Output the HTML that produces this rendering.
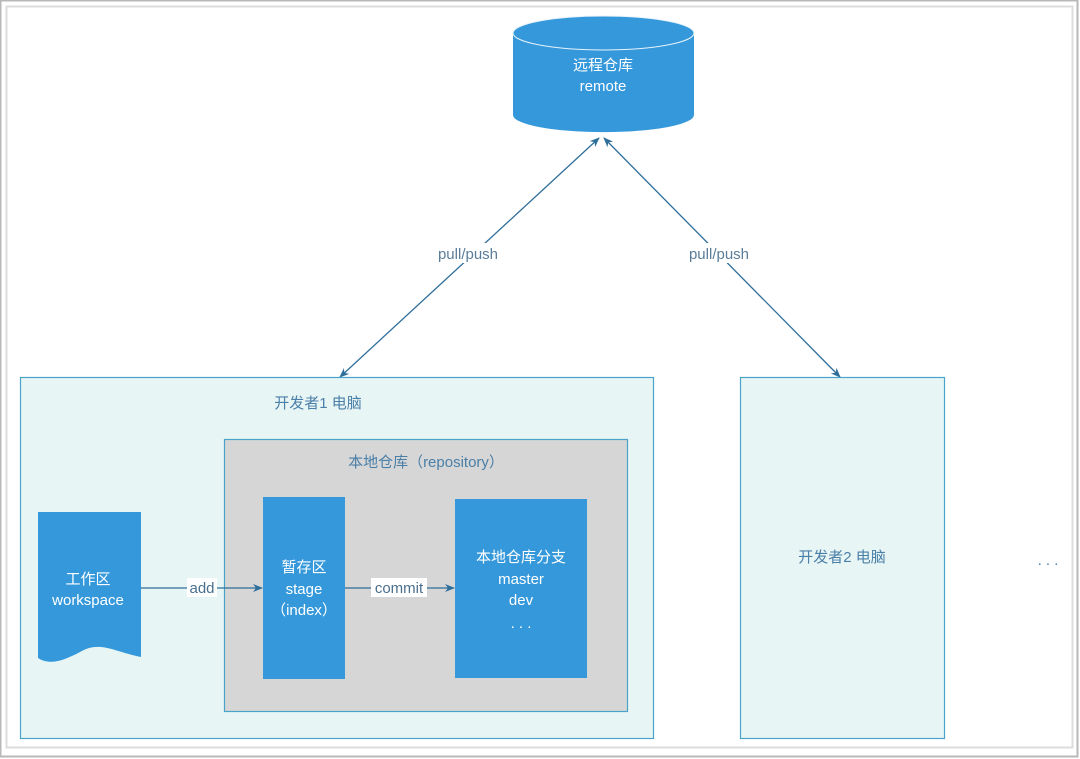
<!DOCTYPE html>
<html><head><meta charset="utf-8"><style>
html,body{margin:0;padding:0;background:#fff;}
svg{display:block;font-family:"Liberation Sans","Noto Sans CJK SC",sans-serif;}
</style></head><body>
<svg width="1080" height="759" viewBox="0 0 1080 759" xmlns="http://www.w3.org/2000/svg">
<defs>
<marker id="ah" markerWidth="10" markerHeight="10" refX="9" refY="5" orient="auto-start-reverse" markerUnits="userSpaceOnUse">
<path d="M0,1 L10,5 L0,9 L3,5 Z" fill="#2e6e9a"/>
</marker>
</defs>
<rect x="0" y="0" width="1080" height="759" fill="#fff"/>
<rect x="0.5" y="0.5" width="1077" height="756" fill="none" stroke="#b8b8b8" stroke-width="2"/>
<rect x="6.5" y="6.5" width="1066" height="741" fill="#fff" stroke="#dcdcdc" stroke-width="2"/>

<!-- cylinder -->
<path d="M513,33 L513,115 A90,17 0 0 0 694,115 L694,33 Z" fill="#3498db"/>
<ellipse cx="603.5" cy="33" rx="90.5" ry="17" fill="#3498db" stroke="#e8f3fb" stroke-width="1"/>
<text x="603" y="70" text-anchor="middle" font-size="15" fill="#fff">远程仓库</text>
<text x="603" y="91" text-anchor="middle" font-size="15" fill="#fff">remote</text>

<!-- arrows -->
<line x1="599" y1="138" x2="340" y2="377" stroke="#2e6e9a" stroke-width="1.3" marker-start="url(#ah)" marker-end="url(#ah)"/>
<line x1="604" y1="138" x2="840" y2="377" stroke="#2e6e9a" stroke-width="1.3" marker-start="url(#ah)" marker-end="url(#ah)"/>
<rect x="420" y="243" width="88" height="20" fill="#fff"/>
<text x="468" y="259" text-anchor="middle" font-size="15" fill="#5a7d9a">pull/push</text>
<rect x="684" y="243" width="70" height="20" fill="#fff"/>
<text x="719" y="259" text-anchor="middle" font-size="15" fill="#5a7d9a">pull/push</text>

<!-- dev1 -->
<rect x="20.5" y="377.5" width="633" height="361" fill="#e8f5f5" stroke="#4aa3c8" stroke-width="1.2"/>
<text x="318" y="408" text-anchor="middle" font-size="15" fill="#4a7fa8">开发者1  电脑</text>
<!-- dev2 -->
<rect x="740.5" y="377.5" width="204" height="361" fill="#e8f5f5" stroke="#4aa3c8" stroke-width="1.2"/>
<text x="842" y="562" text-anchor="middle" font-size="15" fill="#4a7fa8">开发者2  电脑</text>
<text x="1048" y="565" text-anchor="middle" font-size="15" fill="#4a7fa8">. . .</text>

<!-- local repo -->
<rect x="224.5" y="439.5" width="403" height="272" fill="#d6d6d6" stroke="#4aa3c8" stroke-width="1.2"/>
<text x="426" y="467" text-anchor="middle" font-size="15" fill="#4a7fa8">本地仓库（repository）</text>

<!-- workspace -->
<path d="M38,512 L141,512 L141,657 C115,652 100,640 80,652 C65,660 50,666 38,658 Z" fill="#3498db"/>
<text x="88" y="584" text-anchor="middle" font-size="15" fill="#fff">工作区</text>
<text x="88" y="605" text-anchor="middle" font-size="15" fill="#fff">workspace</text>

<!-- stage -->
<rect x="263" y="497" width="82" height="182" fill="#3498db"/>
<text x="304" y="572" text-anchor="middle" font-size="15" fill="#fff">暂存区</text>
<text x="304" y="594" text-anchor="middle" font-size="15" fill="#fff">stage</text>
<text x="304" y="615" text-anchor="middle" font-size="15" fill="#fff">（index）</text>

<!-- branch -->
<rect x="455" y="499" width="132" height="179" fill="#3498db"/>
<text x="521" y="562" text-anchor="middle" font-size="15" fill="#fff">本地仓库分支</text>
<text x="521" y="584" text-anchor="middle" font-size="15" fill="#fff">master</text>
<text x="521" y="605" text-anchor="middle" font-size="15" fill="#fff">dev</text>
<text x="521" y="628" text-anchor="middle" font-size="15" fill="#fff">. . .</text>

<!-- add / commit -->
<line x1="141" y1="588" x2="262" y2="588" stroke="#2e6e9a" stroke-width="1.3" marker-end="url(#ah)"/>
<rect x="187" y="578" width="30" height="19" fill="#fff"/>
<text x="202" y="593" text-anchor="middle" font-size="15" fill="#4a6f8e">add</text>
<line x1="345" y1="588" x2="454" y2="588" stroke="#2e6e9a" stroke-width="1.3" marker-end="url(#ah)"/>
<rect x="371" y="578" width="56" height="19" fill="#fff"/>
<text x="399" y="593" text-anchor="middle" font-size="15" fill="#4a6f8e">commit</text>
</svg>
</body></html>
